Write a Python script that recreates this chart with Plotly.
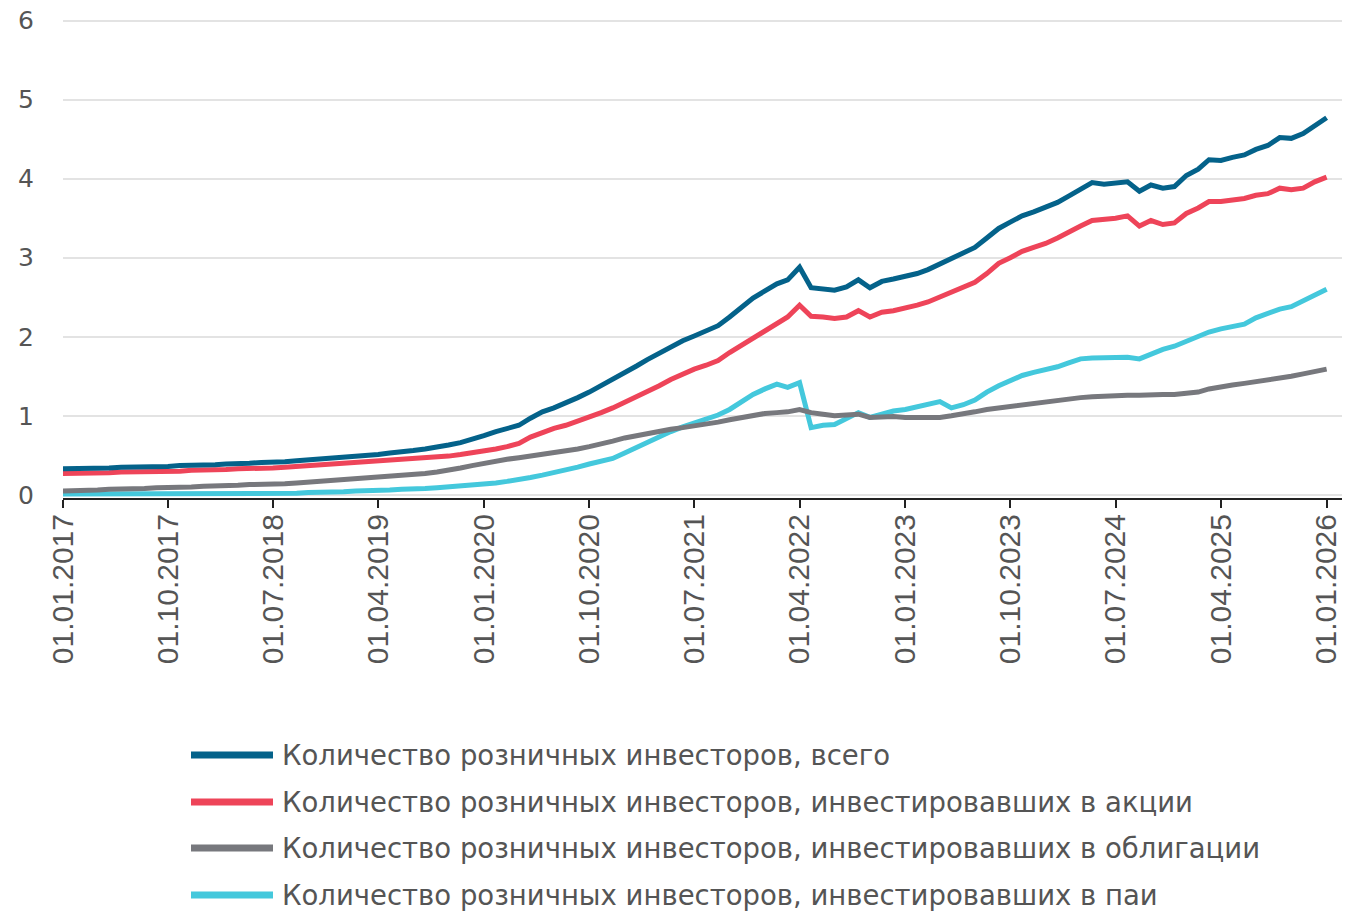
import pandas as pd
import plotly.graph_objects as go

# monthly values, Jan 2017 .. Jan 2026, millions of investors
dates = pd.date_range("2017-01-01", "2026-01-01", freq="MS")

total = [
    0.33, 0.33, 0.33, 0.34, 0.34, 0.35, 0.35, 0.36, 0.36, 0.36, 0.37, 0.37,
    0.38, 0.38, 0.39, 0.39, 0.40, 0.41, 0.41, 0.42, 0.43, 0.44, 0.45, 0.46,
    0.47, 0.48, 0.50, 0.51, 0.53, 0.54, 0.56, 0.58, 0.60, 0.63, 0.66, 0.70,
    0.75, 0.80, 0.84, 0.88, 0.97, 1.05, 1.10, 1.16, 1.23, 1.30, 1.38, 1.46,
    1.55, 1.63, 1.71, 1.79, 1.88, 1.95, 2.01, 2.07, 2.14, 2.25, 2.37, 2.49,
    2.58, 2.67, 2.72, 2.88, 2.62, 2.61, 2.59, 2.63, 2.72, 2.62, 2.70, 2.73,
    2.76, 2.80, 2.85, 2.92, 2.99, 3.05, 3.13, 3.25, 3.37, 3.45, 3.53, 3.58,
    3.64, 3.70, 3.78, 3.87, 3.95, 3.93, 3.94, 3.96, 3.84, 3.92, 3.88, 3.90,
    4.04, 4.12, 4.24, 4.23, 4.27, 4.30, 4.37, 4.42, 4.52, 4.51, 4.57, 4.66,
    4.77,
]
stocks = [
    0.27, 0.27, 0.28, 0.28, 0.28, 0.29, 0.29, 0.29, 0.30, 0.30, 0.30, 0.31,
    0.31, 0.32, 0.32, 0.33, 0.33, 0.34, 0.34, 0.35, 0.36, 0.36, 0.37, 0.38,
    0.39, 0.40, 0.41, 0.42, 0.43, 0.44, 0.45, 0.46, 0.48, 0.49, 0.51, 0.53,
    0.55, 0.58, 0.61, 0.65, 0.73, 0.79, 0.84, 0.88, 0.93, 0.98, 1.04, 1.10,
    1.17, 1.24, 1.30, 1.38, 1.46, 1.53, 1.59, 1.64, 1.70, 1.80, 1.89, 1.99,
    2.07, 2.16, 2.25, 2.40, 2.26, 2.25, 2.23, 2.25, 2.33, 2.25, 2.31, 2.33,
    2.36, 2.40, 2.44, 2.50, 2.57, 2.63, 2.69, 2.80, 2.93, 3.00, 3.08, 3.13,
    3.18, 3.25, 3.33, 3.40, 3.47, 3.48, 3.50, 3.53, 3.40, 3.47, 3.42, 3.44,
    3.56, 3.63, 3.71, 3.71, 3.73, 3.75, 3.79, 3.81, 3.88, 3.86, 3.88, 3.96,
    4.02,
]
bonds = [
    0.05, 0.05, 0.06, 0.06, 0.07, 0.07, 0.08, 0.08, 0.09, 0.09, 0.10, 0.10,
    0.11, 0.11, 0.12, 0.12, 0.13, 0.13, 0.14, 0.14, 0.15, 0.16, 0.17, 0.18,
    0.19, 0.20, 0.21, 0.22, 0.23, 0.24, 0.26, 0.27, 0.29, 0.31, 0.34, 0.37,
    0.40, 0.42, 0.45, 0.47, 0.49, 0.51, 0.53, 0.55, 0.58, 0.61, 0.64, 0.68,
    0.72, 0.75, 0.78, 0.80, 0.83, 0.85, 0.87, 0.89, 0.92, 0.95, 0.98, 1.01,
    1.03, 1.04, 1.05, 1.08, 1.04, 1.02, 1.00, 1.01, 1.02, 0.98, 0.99, 0.99,
    0.98, 0.98, 0.97, 0.98, 1.00, 1.02, 1.05, 1.08, 1.10, 1.12, 1.14, 1.16,
    1.18, 1.20, 1.22, 1.23, 1.24, 1.25, 1.25, 1.26, 1.26, 1.27, 1.27, 1.27,
    1.28, 1.30, 1.34, 1.37, 1.39, 1.41, 1.43, 1.46, 1.48, 1.50, 1.53, 1.56,
    1.59,
]
funds = [
    0.01, 0.01, 0.01, 0.01, 0.01, 0.01, 0.01, 0.01, 0.01, 0.01, 0.01, 0.02,
    0.02, 0.02, 0.02, 0.02, 0.02, 0.02, 0.02, 0.02, 0.02, 0.03, 0.03, 0.04,
    0.04, 0.05, 0.05, 0.06, 0.06, 0.07, 0.07, 0.08, 0.09, 0.10, 0.11, 0.12,
    0.13, 0.15, 0.17, 0.19, 0.22, 0.25, 0.28, 0.31, 0.35, 0.39, 0.42, 0.46,
    0.53, 0.60, 0.67, 0.74, 0.80, 0.86, 0.91, 0.96, 1.01, 1.08, 1.17, 1.27,
    1.34, 1.40, 1.36, 1.42, 0.85, 0.88, 0.89, 0.97, 1.04, 0.98, 1.02, 1.06,
    1.08, 1.11, 1.14, 1.18, 1.10, 1.14, 1.20, 1.30, 1.38, 1.45, 1.51, 1.55,
    1.58, 1.62, 1.67, 1.72, 1.73, 1.73, 1.73, 1.74, 1.72, 1.78, 1.84, 1.88,
    1.94, 2.00, 2.06, 2.10, 2.13, 2.16, 2.24, 2.30, 2.35, 2.38, 2.45, 2.52,
    2.60,
]

series_names = [
    "Количество розничных инвесторов, всего",
    "Количество розничных инвесторов, инвестировавших в акции",
    "Количество розничных инвесторов, инвестировавших в облигации",
    "Количество розничных инвесторов, инвестировавших в паи",
]
series_values = [total, stocks, bonds, funds]
series_colors = ["#04628a", "#ee4459", "#77787d", "#44c8dc"]

tick_dates = pd.date_range("2017-01-01", "2026-01-01", freq="9MS")
tick_labels = [d.strftime("%d.%m.%Y") for d in tick_dates]

FONT = "Liberation Sans, Arial, sans-serif"
WIDE_FONT = "DejaVu Sans, sans-serif"
TEXT_COLOR = "#555555"

# the page body adds an 8px margin, so the figure is a bit smaller than the window
OFFSET = 8
W, H = 1350 - OFFSET, 911 - OFFSET
L, R, T, B = 55, 8, 11, 413


def px_x(x):
    # window pixel -> paper coordinate
    return (x - OFFSET - L) / (W - L - R)


def px_y(y):
    return (H - B - (y - OFFSET)) / (H - T - B)


fig = go.Figure()
# draw bottom series first so the total sits on top
for name, vals, color in reversed(list(zip(series_names, series_values, series_colors))):
    fig.add_trace(go.Scatter(
        x=dates, y=vals, name=name, mode="lines",
        line=dict(color=color, width=5),
        showlegend=False,
    ))

# legend: long swatches to the left of text, stacked below the plot
legend_rows = [755, 802, 848, 895]
for name, color, y in zip(series_names, series_colors, legend_rows):
    fig.add_shape(
        type="line", xref="paper", yref="paper",
        x0=px_x(191), x1=px_x(273), y0=px_y(y), y1=px_y(y),
        line=dict(color=color, width=7),
    )
    fig.add_annotation(
        xref="paper", yref="paper", x=px_x(280), y=px_y(y),
        text=name, showarrow=False, xanchor="left", yanchor="middle",
        font=dict(family=WIDE_FONT, size=27.5, color=TEXT_COLOR),
    )

fig.update_layout(
    width=W, height=H,
    margin=dict(l=L, r=R, t=T, b=B, autoexpand=False),
    plot_bgcolor="white",
    paper_bgcolor="white",
    showlegend=False,
)
fig.update_xaxes(
    type="date", automargin=False,
    range=[pd.Timestamp("2017-01-01"), pd.Timestamp("2026-02-10")],
    tickvals=tick_dates, ticktext=tick_labels, tickangle=-90,
    tickfont=dict(family=FONT, size=30, color=TEXT_COLOR),
    ticks="outside", ticklen=8, tickwidth=2, tickcolor="#222222",
    ticklabelstandoff=-6, ticklabeloverflow="allow",
    showline=True, linecolor="#222222", linewidth=2,
    showgrid=False, zeroline=False,
)
fig.update_yaxes(
    range=[-0.04, 6.02], automargin=False,
    tickvals=[0, 1, 2, 3, 4, 5, 6],
    tickfont=dict(family=WIDE_FONT, size=25, color=TEXT_COLOR),
    ticklabelstandoff=28, ticklabeloverflow="allow",
    showgrid=True, gridcolor="#e3e3e3", gridwidth=2,
    zeroline=False, showline=False,
)

fig.write_html("out.html")
